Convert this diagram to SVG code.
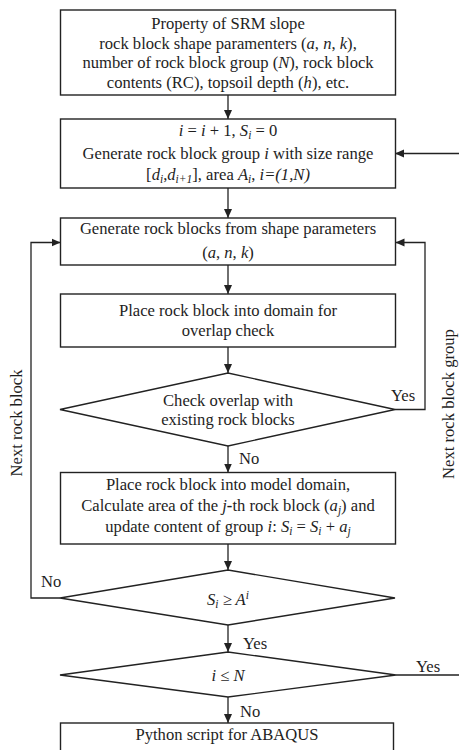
<svg xmlns="http://www.w3.org/2000/svg" width="459" height="750" viewBox="0 0 459 750">
<defs>
<marker id="ah" markerWidth="10" markerHeight="10" refX="9" refY="5" orient="auto" markerUnits="userSpaceOnUse">
<path d="M0,1 L9,5 L0,9 Z" fill="#222"/>
</marker>
<style>
.box{fill:#fff;stroke:#222;stroke-width:1.4}
.ln{fill:none;stroke:#222;stroke-width:1.3}
text{font-family:"Liberation Serif","Times New Roman",serif;font-size:16.6px;fill:#1e1e1e}
.c{text-anchor:middle}
.it{font-style:italic}
.sb{font-size:11.5px}
</style>
</defs>
<rect width="459" height="750" fill="#fff"/>
<g id="connectors">
<path class="ln" d="M228,95 V119" marker-end="url(#ah)"/>
<path class="ln" d="M228,188 V218" marker-end="url(#ah)"/>
<path class="ln" d="M228,265 V294" marker-end="url(#ah)"/>
<path class="ln" d="M228,347 V373" marker-end="url(#ah)"/>
<path class="ln" d="M228,446 V472.5" marker-end="url(#ah)"/>
<path class="ln" d="M228,544 V570" marker-end="url(#ah)"/>
<path class="ln" d="M228,625 V652" marker-end="url(#ah)"/>
<path class="ln" d="M228,697 V723" marker-end="url(#ah)"/>
<path class="ln" d="M395,409.5 H425 V242.5 H395.5" marker-end="url(#ah)"/>
<path class="ln" d="M60,598 H31 V242.5 H60.5" marker-end="url(#ah)"/>
<path class="ln" d="M396,675 H461 V153.5 H395" marker-end="url(#ah)"/>
<text x="391" y="401">Yes</text>
<text x="239" y="464">No</text>
<text x="41" y="587">No</text>
<text x="243" y="649">Yes</text>
<text x="416" y="672">Yes</text>
<text x="240" y="717">No</text>
<text class="c" transform="translate(22,423) rotate(-90)">Next rock block</text>
<text class="c" transform="translate(454,404) rotate(-90)">Next rock block group</text>
</g>
<g id="n1">
<rect class="box" x="60.5" y="10" width="335" height="85"/>
<text class="c" x="228" y="29">Property of SRM slope</text>
<text class="c" x="228" y="48.5">rock block shape paramenters (<tspan class="it">a</tspan>, <tspan class="it">n</tspan>, <tspan class="it">k</tspan>),</text>
<text class="c" x="228" y="68">number of rock block group (<tspan class="it">N</tspan>), rock block</text>
<text class="c" x="228" y="87.5">contents (RC), topsoil depth (<tspan class="it">h</tspan>), etc.</text>
</g>
<g id="n2">
<rect class="box" x="60.5" y="119" width="335" height="69"/>
<text class="c" x="228" y="136"><tspan class="it">i</tspan> = <tspan class="it">i</tspan> + 1, <tspan class="it">S</tspan><tspan class="sb it" dy="3">i</tspan><tspan dy="-3"> = 0</tspan></text>
<text class="c" x="228" y="159">Generate rock block group <tspan class="it">i</tspan> with size range</text>
<text class="c" x="228" y="180">[<tspan class="it">d</tspan><tspan class="sb it" dy="3">i</tspan><tspan dy="-3">,</tspan><tspan class="it">d</tspan><tspan class="sb it" dy="3">i+1</tspan><tspan dy="-3">], area </tspan><tspan class="it">A</tspan><tspan class="sb it" dy="3">i</tspan><tspan dy="-3">, </tspan><tspan class="it">i=(1,N)</tspan></text>
</g>
<g id="n3">
<rect class="box" x="60.5" y="218" width="335" height="47"/>
<text class="c" x="228" y="234">Generate rock blocks from shape parameters</text>
<text class="c" x="228" y="258">(<tspan class="it">a</tspan>, <tspan class="it">n</tspan>, <tspan class="it">k</tspan>)</text>
</g>
<g id="n4">
<rect class="box" x="60.5" y="294" width="335" height="53"/>
<text class="c" x="228" y="316">Place rock block into domain for</text>
<text class="c" x="228" y="336">overlap check</text>
</g>
<g id="n5">
<polygon class="box" points="60,409.5 228,373 395,409.5 228,446"/>
<text class="c" x="228" y="406">Check overlap with</text>
<text class="c" x="228" y="425">existing rock blocks</text>
</g>
<g id="n6">
<rect class="box" x="60.5" y="472.5" width="335" height="71.5"/>
<text class="c" x="228" y="490">Place rock block into model domain,</text>
<text class="c" x="228" y="511">Calculate area of the <tspan class="it">j</tspan><tspan font-weight="bold">-</tspan>th rock block (<tspan class="it">a</tspan><tspan class="sb it" dy="3">j</tspan><tspan dy="-3">) and</tspan></text>
<text class="c" x="228" y="531.5">update content of group <tspan class="it">i</tspan>: <tspan class="it">S</tspan><tspan class="sb it" dy="3">i</tspan><tspan dy="-3"> = </tspan><tspan class="it">S</tspan><tspan class="sb it" dy="3">i</tspan><tspan dy="-3"> + </tspan><tspan class="it">a</tspan><tspan class="sb it" dy="3">j</tspan></text>
</g>
<g id="n7">
<polygon class="box" points="60,598 228,570 395,598 228,625"/>
<text class="c it" x="228" y="605">S<tspan class="sb" dy="3">i</tspan><tspan dy="-3"> ≥ A</tspan><tspan class="sb" dy="-6">i</tspan></text>
</g>
<g id="n8">
<polygon class="box" points="60,675 228,652 396,675 228,697"/>
<text class="c it" x="228" y="681">i ≤ N</text>
</g>
<g id="n9">
<rect class="box" x="60.5" y="723" width="333" height="40"/>
<text class="c" x="227" y="740">Python script for ABAQUS</text>
</g>
</svg>
